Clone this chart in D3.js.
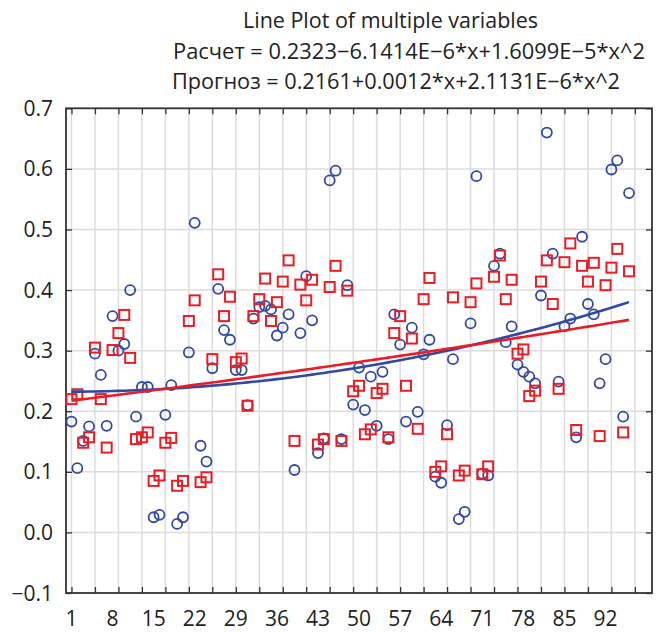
<!DOCTYPE html>
<html><head><meta charset="utf-8">
<script src="https://cdn.jsdelivr.net/npm/d3@7"></script>
<style>body{margin:0;background:#fff}</style>
</head><body><svg id="c" width="660" height="633"></svg>
<script>
const caseNumbers = d3.range(1, 97);
const raschet = [0.183,0.106,0.151,0.175,0.295,0.260,0.176,0.357,0.300,0.311,
 0.400,0.191,0.240,0.240,0.025,0.029,0.194,0.243,0.014,0.025,
 0.297,0.511,0.143,0.117,0.271,0.402,0.334,0.318,0.268,0.268,
 0.210,0.353,0.372,0.374,0.368,0.325,0.338,0.360,0.103,0.329,
 0.423,0.350,0.131,0.155,0.581,0.597,0.154,0.408,0.211,0.272,
 0.202,0.257,0.176,0.265,0.154,0.360,0.310,0.183,0.338,0.199,
 0.294,0.318,0.092,0.082,0.177,0.286,0.022,0.034,0.345,0.588,
 0.097,0.094,0.440,0.460,0.314,0.340,0.277,0.265,0.257,0.246,
 0.391,0.660,0.460,0.249,0.340,0.353,0.157,0.488,0.377,0.360,
 0.246,0.286,0.599,0.614,0.191,0.560];
const prognoz = [0.220,0.228,0.148,0.157,0.305,0.220,0.140,0.301,0.329,0.359,
 0.288,0.154,0.157,0.165,0.085,0.094,0.148,0.156,0.077,0.085,
 0.349,0.383,0.083,0.091,0.286,0.426,0.357,0.389,0.281,0.287,
 0.209,0.357,0.385,0.419,0.349,0.380,0.414,0.449,0.151,0.409,
 0.383,0.417,0.145,0.154,0.405,0.440,0.151,0.399,0.233,0.242,
 0.162,0.170,0.230,0.237,0.157,0.329,0.357,0.242,0.320,0.171,
 0.385,0.420,0.100,0.109,0.162,0.388,0.094,0.102,0.380,0.411,
 0.096,0.109,0.422,0.457,0.385,0.417,0.295,0.302,0.225,0.234,
 0.414,0.449,0.377,0.237,0.446,0.477,0.169,0.440,0.414,0.445,
 0.159,0.408,0.437,0.468,0.165,0.431];
const raschetCoef = [0.2323, -6.1414e-6, 1.6099e-5];
const prognozCoef = [0.2161, 0.0012, 2.1131e-6];
const xTickValues = d3.range(1, 98, 4);
const xLabelValues = [1, 8, 15, 22, 29, 36, 43, 50, 57, 64, 71, 78, 85, 92];
const yTickValues = [-0.1, 0, 0.1, 0.2, 0.3, 0.4, 0.5, 0.6, 0.7];
const titleLines = [
  "Line Plot of multiple variables",
  "Расчет = 0.2323\u22126.1414E\u22126*x+1.6099E\u22125*x^2",
  "Прогноз = 0.2161+0.0012*x+2.1131E\u22126*x^2"
];

const BLUE = "#3149a1", RED = "#ec1c24", FONT = "'Open Sans', 'Noto Sans', sans-serif";
const svg = d3.select("#c");
const L = 66, R = 652, T = 108.3, B = 593;
const x = d3.scaleLinear().domain([0, 100]).range([65.6, 652.5]);
const y = d3.scaleLinear().domain([-0.1, 0.7]).range([B, T]);

// grid
svg.append("g").selectAll("line").data(xTickValues).join("line")
  .attr("x1", d => x(d)).attr("x2", d => x(d)).attr("y1", T).attr("y2", B)
  .attr("stroke", "#dcdcdc").attr("stroke-width", 1.5);
svg.append("g").selectAll("line").data(yTickValues.slice(1, -1)).join("line")
  .attr("x1", L).attr("x2", R).attr("y1", d => y(d)).attr("y2", d => y(d))
  .attr("stroke", "#dcdcdc").attr("stroke-width", 1.5);

// axes (ticks inward)
const fmt = d => d < 0 ? "\u2212" + Math.abs(d).toFixed(1) : d.toFixed(1);
const axL = svg.append("g").attr("transform", `translate(${L},0)`)
  .call(d3.axisRight(y).tickValues(yTickValues).tickSize(6).tickFormat(""));
const axR = svg.append("g").attr("transform", `translate(${R},0)`)
  .call(d3.axisLeft(y).tickValues(yTickValues).tickSize(6).tickFormat(""));
const axB = svg.append("g").attr("transform", `translate(0,${B})`)
  .call(d3.axisTop(x).tickValues(xTickValues).tickSize(6).tickFormat(""));
const axT = svg.append("g").attr("transform", `translate(0,${T})`)
  .call(d3.axisBottom(x).tickValues(xTickValues).tickSize(6).tickFormat(""));
[axL, axR, axB, axT].forEach(g => {
  g.select(".domain").remove();
  g.selectAll(".tick line").attr("stroke", "#333").attr("stroke-width", 1.3);
});
svg.append("rect").attr("x", L).attr("y", T).attr("width", R - L).attr("height", B - T)
  .attr("fill", "none").attr("stroke", "#333").attr("stroke-width", 1.8);

// tick labels
svg.append("g").selectAll("text").data(yTickValues).join("text")
  .attr("x", 53).attr("y", d => y(d) + 7.5).attr("text-anchor", "end")
  .attr("font-family", FONT).attr("font-size", 21).attr("fill", "#222")
  .text(fmt);
svg.append("g").selectAll("text").data(xLabelValues).join("text")
  .attr("x", d => x(d)).attr("y", 625.5).attr("text-anchor", "middle")
  .attr("font-family", FONT).attr("font-size", 21).attr("fill", "#222")
  .text(d => d);

// titles
const titleX = [243, 173, 172], titleY = [28, 59, 89], titleW = [295, 472, 448];
svg.append("g").selectAll("text").data(titleLines).join("text")
  .attr("x", (d, i) => titleX[i]).attr("y", (d, i) => titleY[i])
  .attr("textLength", (d, i) => titleW[i]).attr("lengthAdjust", "spacingAndGlyphs")
  .attr("font-family", FONT).attr("font-size", 21.5).attr("fill", "#222")
  .text(d => d);

// points
const plot = svg.append("g");
plot.selectAll("circle").data(raschet).join("circle")
  .attr("cx", (d, i) => x(caseNumbers[i])).attr("cy", d => y(d)).attr("r", 5)
  .attr("fill", "none").attr("stroke", BLUE).attr("stroke-width", 1.8);
plot.selectAll("rect").data(prognoz).join("rect")
  .attr("x", (d, i) => x(caseNumbers[i]) - 5).attr("y", d => y(d) - 5)
  .attr("width", 10).attr("height", 10)
  .attr("fill", "none").attr("stroke", RED).attr("stroke-width", 2);

// fitted quadratic lines (from the stated equations)
const poly = c => xx => c[0] + c[1] * xx + c[2] * xx * xx;
const fitX = caseNumbers;
const line = f => d3.line().x(d => x(d)).y(d => y(f(d)));
svg.append("path").attr("d", line(poly(raschetCoef))(fitX))
  .attr("fill", "none").attr("stroke", BLUE).attr("stroke-width", 2.6);
svg.append("path").attr("d", line(poly(prognozCoef))(fitX))
  .attr("fill", "none").attr("stroke", RED).attr("stroke-width", 2.6);
</script></body></html>
